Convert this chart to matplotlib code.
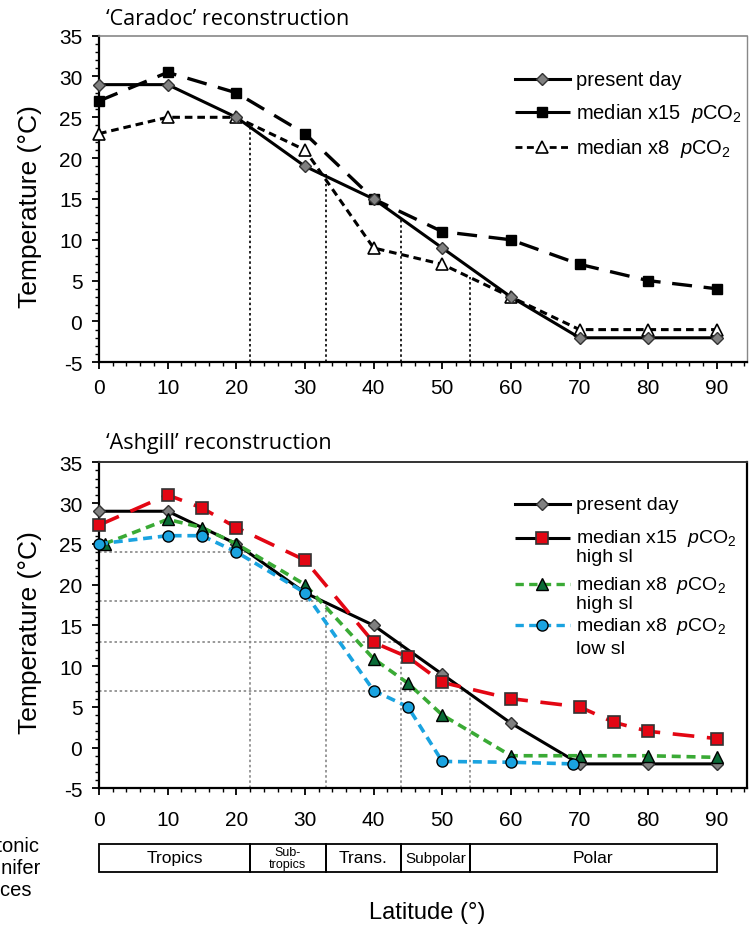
import matplotlib
matplotlib.use("Agg")
import matplotlib.pyplot as plt
from matplotlib.ticker import MultipleLocator

plt.rcParams['font.family'] = ['Liberation Sans', 'DejaVu Sans']
plt.rcParams['mathtext.fontset'] = 'custom'
plt.rcParams['mathtext.rm'] = 'Liberation Sans'
plt.rcParams['mathtext.it'] = 'Liberation Sans:italic'
plt.rcParams['axes.unicode_minus'] = False

# latitude grid used by the modern profile and the Caradoc runs
lat = [0, 10, 20, 30, 40, 50, 60, 70, 80, 90]
present_day = [29, 29, 25, 19, 15, 9, 3, -2, -2, -2]

# Caradoc reconstruction
car_x15 = [27, 30.5, 28, 23, 15, 11, 10, 7, 5, 4]
car_x8 = [23, 25, 25, 21, 9, 7, 3, -1, -1, -1]

# Ashgill reconstruction
ash_x15_lat = [0, 10, 15, 20, 30, 40, 45, 50, 60, 70, 75, 80, 90]
ash_x15 = [27.3, 31, 29.4, 27, 23, 12.9, 11.1, 8, 6, 5, 3.1, 2, 1.1]
ash_x8h_lat = [0.8, 10, 15, 20, 30, 40, 45, 50, 60, 70, 80, 90]
ash_x8h = [25, 28, 27, 25, 20, 10.9, 7.9, 4, -1, -1, -1, -1.2]
ash_x8l_lat = [0, 10, 15, 20, 30, 40, 45, 50, 60, 69]
ash_x8l = [25, 26, 26, 24, 19, 7, 5, -1.7, -1.8, -2]

# province boundaries and their temperature thresholds
bound_lat = [22, 33, 44, 54]
bound_temp = [24, 18, 13, 7]
car_bound_top = [24, 18, 12.5, 5.5]
zone_edges = [0, 22, 33, 44, 54, 90]
zone_names = ['Tropics', 'Sub-\ntropics', 'Trans.', 'Subpolar', 'Polar']
zone_sizes = [12.5, 9, 12.5, 11, 12.5]

red = '#e30613'
green = '#3aaa35'
dkgreen = '#0a6b37'
blue = '#1aa3e0'
xmax = 94.4

fig = plt.figure(figsize=(7.49, 9.37), dpi=100)
ax1 = fig.add_axes([0.1322, 0.6123, 0.8652, 0.3486])
ax2 = fig.add_axes([0.1322, 0.1576, 0.8652, 0.3479])
ax3 = fig.add_axes([0.1322, 0.0686, 0.8652, 0.0296])


def style_axes(ax, pad_x):
    ax.set_xlim(0, xmax)
    ax.set_ylim(-5, 35)
    ax.set_xticks(range(0, 91, 10))
    ax.xaxis.set_minor_locator(MultipleLocator(2))
    ax.yaxis.set_minor_locator(MultipleLocator(1))
    ax.set_yticks(range(-5, 36, 5))
    ax.tick_params(which='major', direction='out', length=5, width=1.3, labelsize=15)
    ax.tick_params(which='minor', direction='out', length=3, width=1)
    ax.tick_params(axis='y', pad=7)
    ax.tick_params(axis='x', pad=pad_x)
    ax.set_ylabel('Temperature (°C)', fontsize=19)
    ax.yaxis.set_label_coords(-0.088, 0.48)
    ax.spines['left'].set_linewidth(1.6)
    ax.spines['bottom'].set_linewidth(1.6)


style_axes(ax1, 6)
style_axes(ax2, 10.5)
ax1.spines['top'].set_color('#888888')
ax1.spines['right'].set_color('#888888')
ax1.spines['top'].set_linewidth(1.2)
ax1.spines['right'].set_linewidth(1.0)
ax2.spines['top'].set_color('#333333')
ax2.spines['top'].set_linewidth(1.4)
ax2.spines['right'].set_linewidth(1.6)

# ---- top panel
for bx, bt in zip(bound_lat, car_bound_top):
    ax1.plot([bx, bx], [-5, bt], color='black', lw=1.2, dashes=(1.5, 1.6), zorder=1)

kw = dict(clip_on=False)
ax1.plot(lat, car_x8, color='black', lw=2.2, dashes=(2.5, 1.6), marker='^', ms=8,
         mfc='white', mec='black', mew=1.2, zorder=3, **kw)
ax1.plot(lat, car_x15, color='black', lw=2.4, dashes=(6, 3.5), marker='s', ms=7,
         mfc='black', mec='black', zorder=4, **kw)
ax1.plot(lat, present_day, color='black', lw=2.2, marker='D', ms=6.5,
         mfc='#808080', mec='#333333', mew=1, zorder=5, **kw)

# ---- bottom panel
for bx, bt in zip(bound_lat, bound_temp):
    ax2.plot([bx, bx], [-5, bt], color='#888888', lw=1.2, dashes=(1.5, 1.6), zorder=1)
    ax2.plot([0, bx], [bt, bt], color='#888888', lw=1.2, dashes=(1.5, 1.6), zorder=1)

ax2.plot(lat, present_day, color='black', lw=2.2, marker='D', ms=6.5,
         mfc='#808080', mec='#333333', mew=1, zorder=3, **kw)
ax2.plot(ash_x15_lat, ash_x15, color=red, lw=2.6, dashes=(6, 3.5), marker='s', ms=8,
         mfc=red, mec='#333333', mew=1.2, zorder=4, **kw)
ax2.plot(ash_x8h_lat, ash_x8h, color=green, lw=2.6, dashes=(2.5, 1.6), marker='^', ms=9,
         mfc=dkgreen, mec='black', mew=1, zorder=4, **kw)
ax2.plot(ash_x8l_lat, ash_x8l, color=blue, lw=2.6, dashes=(2.5, 1.6), marker='o', ms=8,
         mfc=blue, mec='black', mew=1, zorder=4, **kw)


# ---- hand-made legends
def legend_row(ax, y, label, lstyle, mstyle, extra=None, ygap=0.058, fs=14.5):
    ax.plot([0.642, 0.727], [y, y], transform=ax.transAxes, clip_on=False, **lstyle)
    ax.plot([0.684], [y], transform=ax.transAxes, clip_on=False, ls='none', **mstyle)
    ax.text(0.736, y, label, transform=ax.transAxes, fontsize=fs, va='center', ha='left')
    if extra:
        ax.text(0.736, y - ygap, extra, transform=ax.transAxes, fontsize=fs,
                va='center', ha='left')


pco2_15 = 'median x15  $p$CO$_2$'
pco2_8 = 'median x8  $p$CO$_2$'
legend_row(ax1, 0.867, 'present day', dict(color='black', lw=2.2),
           dict(marker='D', ms=6.5, mfc='#808080', mec='#333333'))
legend_row(ax1, 0.766, pco2_15, dict(color='black', lw=2.2, dashes=(8, 2.5)),
           dict(marker='s', ms=7, mfc='black', mec='black'))
legend_row(ax1, 0.659, pco2_8, dict(color='black', lw=2, dashes=(2.5, 1.6)),
           dict(marker='^', ms=8, mfc='white', mec='black', mew=1.2))

legend_row(ax2, 0.872, 'present day', dict(color='black', lw=2.2),
           dict(marker='D', ms=6.5, mfc='#808080', mec='#333333'), fs=14)
legend_row(ax2, 0.768, pco2_15, dict(color='black', lw=2.2, dashes=(8, 2.5)),
           dict(marker='s', ms=8, mfc=red, mec='#333333', mew=1.2), 'high sl', fs=14)
legend_row(ax2, 0.626, pco2_8, dict(color=green, lw=2.4, dashes=(2.5, 1.6)),
           dict(marker='^', ms=9, mfc=dkgreen, mec='black'), 'high sl', fs=14)
legend_row(ax2, 0.500, pco2_8, dict(color=blue, lw=2.4, dashes=(2.5, 1.6)),
           dict(marker='o', ms=8, mfc=blue, mec='black'), 'low sl', ygap=0.07, fs=14)

# ---- province band
ax3.set_xlim(0, xmax)
ax3.set_ylim(0, 1)
widths = [b - a for a, b in zip(zone_edges[:-1], zone_edges[1:])]
ax3.bar(zone_edges[:-1], [1] * len(widths), width=widths, align='edge',
        fill=False, edgecolor='black', linewidth=1.3, clip_on=False)
for a, w, name, fs in zip(zone_edges[:-1], widths, zone_names, zone_sizes):
    ax3.text(a + w / 2, 0.5, name, ha='center', va='center', fontsize=fs,
             linespacing=0.95)
ax3.axis('off')

fig.text(-0.072, 0.0735, 'Planktonic\nforaminifer\nprovinces', ha='left', va='center',
         fontsize=14.5, linespacing=1.2)

fig.text(0.1415, 0.9787, '‘Caradoc’ reconstruction', fontsize=15.5, va='center',
         family=['Open Sans', 'DejaVu Sans'])
fig.text(0.1415, 0.527, '‘Ashgill’ reconstruction', fontsize=15.5, va='center',
         family=['Open Sans', 'DejaVu Sans'])
fig.text(0.570, 0.0256, 'Latitude (°)', fontsize=17, ha='center', va='center')

fig.savefig('out.png', dpi=100)
